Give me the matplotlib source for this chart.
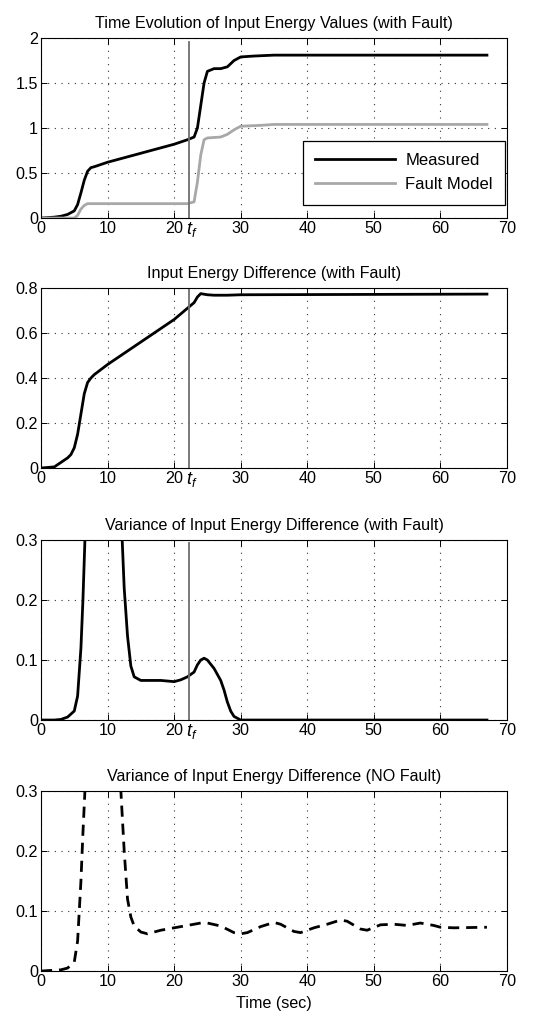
import matplotlib
matplotlib.use('Agg')
from matplotlib import pyplot as plt
import matplotlib.transforms as mtransforms

plt.rcParams['font.family'] = ['Liberation Sans', 'DejaVu Sans']
plt.rcParams['mathtext.fontset'] = 'custom'
plt.rcParams['mathtext.it'] = 'Liberation Sans:italic'
plt.rcParams['mathtext.rm'] = 'Liberation Sans'

t_fault = 22.3

# panel 1: measured energy and fault model energy
t_meas = [0, 2, 3, 4, 5, 5.5, 6, 6.5, 7, 7.5, 8, 10, 15, 20, 22, 23, 23.5, 24,
          24.5, 25, 26, 27, 28, 29, 30, 32, 35, 40, 67]
e_meas = [0, 0.01, 0.02, 0.04, 0.08, 0.15, 0.28, 0.42, 0.52, 0.56, 0.57, 0.62,
          0.72, 0.82, 0.87, 0.9, 1.0, 1.25, 1.5, 1.63, 1.66, 1.66, 1.68, 1.75,
          1.79, 1.80, 1.81, 1.81, 1.81]
t_model = [0, 5, 5.5, 6, 6.5, 7, 22, 23, 23.5, 24, 24.5, 25, 27, 28, 29, 30,
           33, 35, 67]
e_model = [0, 0, 0.03, 0.1, 0.14, 0.16, 0.16, 0.18, 0.4, 0.7, 0.87, 0.89, 0.9,
           0.93, 0.98, 1.02, 1.03, 1.04, 1.04]

# panel 2: energy difference
t_diff = [0, 2, 3, 4, 4.5, 5, 5.5, 6, 6.5, 7, 7.5, 8, 10, 15, 20, 22, 23, 23.5,
          24, 25, 26, 28, 30, 67]
e_diff = [0, 0.005, 0.025, 0.045, 0.06, 0.09, 0.15, 0.24, 0.33, 0.38, 0.40,
          0.415, 0.46, 0.56, 0.66, 0.71, 0.735, 0.76, 0.775, 0.77, 0.768,
          0.768, 0.77, 0.773]

# panel 3: variance with fault
t_var = [0, 2, 3, 4, 5, 5.5, 6, 6.3, 6.6, 7, 9, 11, 12, 12.2, 12.5, 13, 13.5,
         14, 15, 17, 18, 20, 21, 22, 23, 23.5, 24, 24.5, 25, 26, 27, 27.5, 28,
         28.5, 29, 30, 67]
v_var = [0, 0, 0.001, 0.005, 0.015, 0.04, 0.12, 0.2, 0.3, 0.45, 0.7, 0.6, 0.4,
         0.3, 0.22, 0.14, 0.09, 0.072, 0.066, 0.066, 0.066, 0.064, 0.067,
         0.072, 0.08, 0.092, 0.1, 0.103, 0.1, 0.086, 0.066, 0.05, 0.03, 0.015,
         0.006, 0, 0]

# panel 4: variance without fault
t_nof = [0, 3, 4, 5, 5.5, 6, 6.3, 6.6, 7, 9, 11, 12, 12.5, 13, 13.5, 14, 15,
         16, 18, 20, 22, 24, 25, 27, 29, 30, 31, 33, 35, 36, 38, 39, 41, 43,
         45, 46, 48, 49, 51, 53, 55, 57, 59, 60, 62, 67]
v_nof = [0, 0.002, 0.005, 0.015, 0.05, 0.15, 0.23, 0.3, 0.45, 0.7, 0.6, 0.3,
         0.2, 0.12, 0.09, 0.075, 0.065, 0.062, 0.068, 0.072, 0.076, 0.08,
         0.08, 0.075, 0.064, 0.062, 0.064, 0.074, 0.081, 0.078, 0.066, 0.064,
         0.072, 0.078, 0.085, 0.083, 0.07, 0.068, 0.077, 0.078, 0.076, 0.08,
         0.076, 0.073, 0.072, 0.073]

titles = ['Time Evolution of Input Energy Values (with Fault)',
          'Input Energy Difference (with Fault)',
          'Variance of Input Energy Difference (with Fault)',
          'Variance of Input Energy Difference (NO Fault)']

fs = 11.6

fig = plt.figure(figsize=(5.54, 10.17), dpi=100)
bottoms = [0.7856, 0.5398, 0.292, 0.0452]
axes = [fig.add_axes([0.074, b, 0.841, 0.177]) for b in bottoms]

fault_color = '#707070'

ax = axes[0]
ax.plot(t_meas, e_meas, color='black', lw=2, label='Measured')
ax.plot(t_model, e_model, color='#a8a8a8', lw=2, label='Fault Model')
ax.plot([t_fault, t_fault], [0, 1.96], color=fault_color, lw=1.3)
ax.set_ylim(0, 2)
ax.set_yticks([0, 0.5, 1, 1.5, 2])
ax.set_yticklabels(['0', '0.5', '1', '1.5', '2'])
leg = ax.legend(loc='lower right', bbox_to_anchor=(1.0, 0.065), fontsize=12,
                handlelength=4.8, handletextpad=0.6, fancybox=False,
                edgecolor='black', framealpha=1, borderpad=0.75,
                labelspacing=0.55, borderaxespad=0.1)
leg.get_frame().set_linewidth(0.9)

ax = axes[1]
ax.plot(t_diff, e_diff, color='black', lw=2)
ax.plot([t_fault, t_fault], [0, 0.8], color=fault_color, lw=1.3)
ax.set_ylim(0, 0.8)
ax.set_yticks([0, 0.2, 0.4, 0.6, 0.8])
ax.set_yticklabels(['0', '0.2', '0.4', '0.6', '0.8'])

ax = axes[2]
ax.plot(t_var, v_var, color='black', lw=2)
ax.plot([t_fault, t_fault], [0, 0.295], color=fault_color, lw=1.3)
ax.set_ylim(0, 0.3)

ax = axes[3]
ax.plot(t_nof, v_nof, color='black', lw=2, linestyle=(0, (4, 2.5)))
ax.set_ylim(0, 0.3)
ax.set_xlabel('Time (sec)', fontsize=fs, labelpad=5)

for i, ax in enumerate(axes):
    ax.set_xlim(0, 70)
    ax.set_xticks(range(0, 71, 10))
    ax.set_title(titles[i], fontsize=fs, pad=7)
    if i >= 2:
        ax.set_yticks([0, 0.1, 0.2, 0.3])
        ax.set_yticklabels(['0', '0.1', '0.2', '0.3'])
    ax.grid(True, linestyle=(0, (1, 5)), color='#333333', linewidth=0.8)
    ax.tick_params(direction='in', top=True, right=True, length=4,
                   labelsize=fs, pad=2, width=0.7)
    for s in ax.spines.values():
        s.set_linewidth(0.8)
    if i < 3:
        trans = mtransforms.blended_transform_factory(ax.transData, ax.transAxes)
        ax.text(t_fault + 0.3, -0.012, '$t_f$', transform=trans, ha='center',
                va='top', fontsize=13)

fig.savefig('out.png', dpi=100)
